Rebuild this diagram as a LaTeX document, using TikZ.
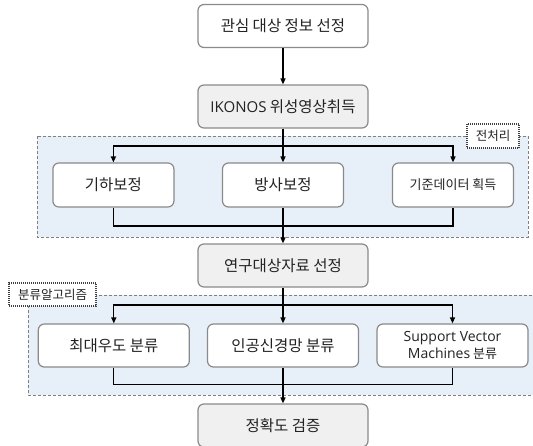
\documentclass[tikz,border=0pt]{standalone}
\usepackage{fontspec}
\setmainfont{Noto Sans CJK KR}
\newfontfamily\latfont{Open Sans}
\usetikzlibrary{arrows.meta}
\definecolor{grpfill}{HTML}{E7EFF9}
\definecolor{grpline}{HTML}{808080}
\definecolor{boxline}{HTML}{8A8A8A}
\definecolor{grayfill}{HTML}{F0F0F0}
\definecolor{txt}{HTML}{222222}
\tikzset{
  box/.style={draw=boxline, line width=1.2pt, rounded corners=6pt, fill=white,
    minimum height=43pt, text=txt, font=\fontsize{15.5}{18}\selectfont, inner sep=0pt, align=center},
  graybox/.style={box, fill=grayfill, minimum width=170pt},
  whitebox/.style={box, minimum width=170pt},
  subA/.style={box, minimum width=121pt, minimum height=44pt},
  subB/.style={box, minimum width=151pt, minimum height=43pt},
  grp/.style={draw=grpline, fill=grpfill, line width=1pt, dash pattern=on 3pt off 2pt},
  tag/.style={draw=black!75, fill=white, line width=1.1pt, dash pattern=on 1pt off 1pt,
    text=txt, font=\fontsize{12.5}{14}\selectfont, inner sep=0pt},
  conn/.style={line width=1.3pt, black},
  arr/.style={conn, -{Triangle[length=6pt,width=5pt]}},
}
\begin{document}
\begin{tikzpicture}[x=1pt,y=-1pt]
\useasboundingbox (0,0) rectangle (533,445);
% groups
\draw[grp] (37,136) rectangle (528,237);
\draw[grp] (28,295) rectangle (545,395);
\node[tag, minimum width=52pt, minimum height=24pt] (t1) at (493,136) {전처리};
\node[tag, minimum width=87pt, minimum height=23pt] (t2) at (52.5,294.5) {분류알고리즘};
% main boxes
\node[whitebox] (top) at (283,26) {관심 대상 정보 선정};
\node[graybox] (ik) at (283,106.5) {{\latfont\fontsize{15}{18}\selectfont IKONOS} 위성영상취득};
\node[subA] (a1) at (113.4,185) {기하보정};
\node[subA] (a2) at (283,185) {방사보정};
\node[subA, font=\fontsize{13}{15}\selectfont] (a3) at (453,185) {기준데이터 획득};
\node[graybox] (res) at (283,265.5) {연구대상자료 선정};
\node[subB] (b1) at (113.8,345.5) {최대우도 분류};
\node[subB] (b2) at (283,345.5) {인공신경망 분류};
\node[subB, font=\fontsize{13}{16.5}\selectfont] (b3) at (452.5,345.5) {{\latfont\fontsize{14}{16.5}\selectfont Support Vector}\\{\latfont\fontsize{14}{16.5}\selectfont Machines} 분류};
\node[graybox] (acc) at (283,425.5) {정확도 검증};
% coordinates
\coordinate (s1) at (283,146);
\coordinate (j1) at (283,226);
\coordinate (s2) at (283,305);
\coordinate (j2) at (283,384.5);
% connectors
\draw[arr] (top) -- (ik);
\draw[conn] (ik) -- (s1);
\draw[arr] (s1) -| (a1);
\draw[arr] (s1) -| (a3);
\draw[arr] (s1) -- (a2);
\draw[conn] (a1) |- (j1);
\draw[conn] (a3) |- (j1);
\draw[arr] (a2) -- (res);
\draw[conn] (res) -- (s2);
\draw[arr] (s2) -| (b1);
\draw[arr] (s2) -| (b3);
\draw[arr] (s2) -- (b2);
\draw[conn] (b1) |- (j2);
\draw[conn] (b3) |- (j2);
\draw[arr] (b2) -- (acc);
\end{tikzpicture}
\end{document}
